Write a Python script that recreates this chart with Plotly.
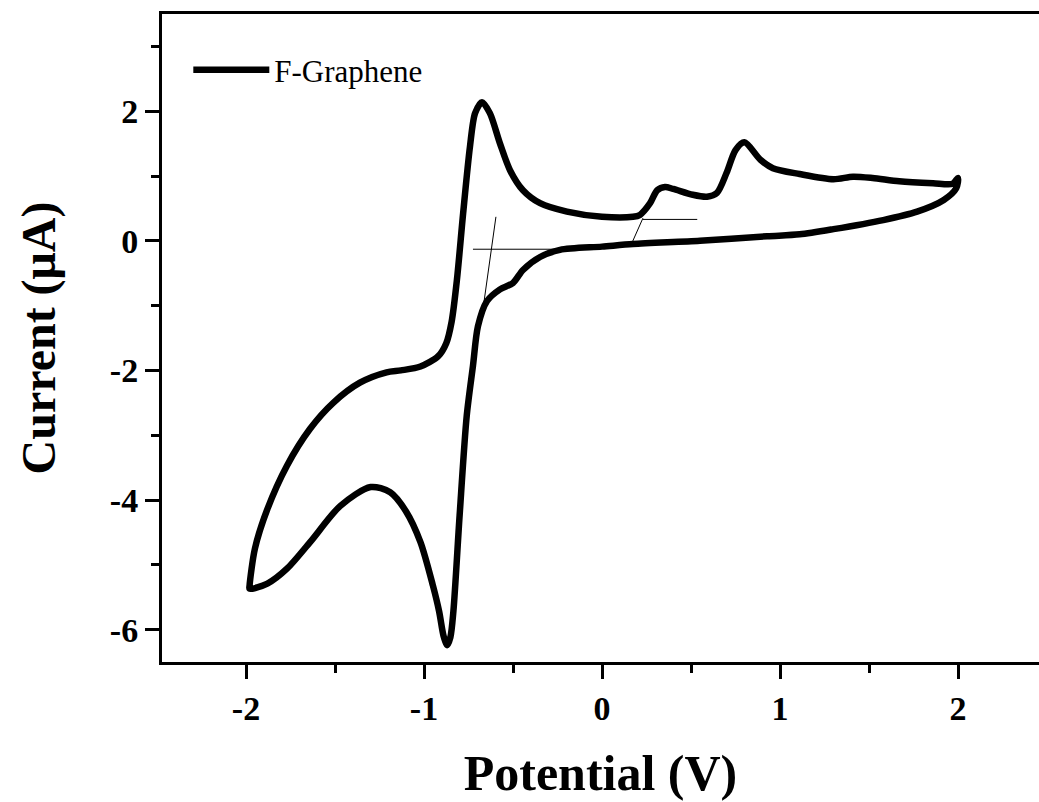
import plotly.graph_objects as go

# Cyclic voltammogram of F-Graphene (closed loop: upper branch right->left, lower branch left->right)
potential = [
    2.00, 1.97, 1.86, 1.67, 1.52, 1.41, 1.30, 1.11, 0.96, 0.89, 0.80, 0.75, 0.70, 0.646, 0.59, 0.51,
    0.40, 0.354, 0.31, 0.27, 0.213, 0.174, 0.00, -0.197, -0.348, -0.444, -0.517, -0.573, -0.63,
    -0.674, -0.713, -0.742, -0.78, -0.815, -0.845, -0.875, -0.92, -1.02, -1.13, -1.21, -1.36, -1.51,
    -1.64, -1.77, -1.88, -1.95, -1.98,
    -1.98, -1.88, -1.77, -1.64, -1.47, -1.30, -1.19, -1.10, -1.02, -0.95, -0.915, -0.89, -0.87,
    -0.852, -0.835, -0.80, -0.76, -0.725, -0.697, -0.646, -0.573, -0.50, -0.444, -0.348, -0.236,
    0.00, 0.174, 0.55, 0.927, 1.11, 1.30, 1.58, 1.77, 1.92, 1.99, 2.00,
]
current = [
    0.97, 0.88, 0.89, 0.92, 0.97, 0.99, 0.95, 1.03, 1.12, 1.25, 1.52, 1.40, 1.05, 0.74, 0.68, 0.71,
    0.80, 0.83, 0.78, 0.58, 0.40, 0.37, 0.37, 0.45, 0.58, 0.78, 1.09, 1.50, 1.97,
    2.14, 1.97, 1.45, 0.43, -0.60, -1.25, -1.58, -1.78, -1.94, -2.00, -2.03, -2.19, -2.50,
    -2.90, -3.47, -4.14, -4.75, -5.32,
    -5.37, -5.29, -5.06, -4.65, -4.09, -3.80, -3.88, -4.18, -4.65, -5.32, -5.72, -6.10, -6.24,
    -6.12, -5.72, -4.24, -2.70, -1.93, -1.32, -0.93, -0.75, -0.65, -0.45, -0.25, -0.14,
    -0.09, -0.05, 0.00, 0.07, 0.10, 0.18, 0.32, 0.45, 0.63, 0.81, 0.97,
]

# Thin construction (baseline / tangent) lines
tangent1_x = [-0.725, -0.25]
tangent1_y = [-0.13, -0.13]
tangent2_x = [-0.596, -0.667]
tangent2_y = [0.37, -1.02]
tangent3_x = [0.23, 0.535]
tangent3_y = [0.33, 0.33]
tangent4_x = [0.23, 0.167]
tangent4_y = [0.35, -0.04]

# Axis ticks (labels use a plain hyphen as in the original)
x_tickvals = [-2, -1, 0, 1, 2]
x_ticktext = ["-2", "-1", "0", "1", "2"]
y_tickvals = [-6, -4, -2, 0, 2]
y_ticktext = ["-6", "-4", "-2", "0", "2"]

x_range = [-2.472, 2.455]
y_range = [-6.5, 3.5]

serif = "Liberation Serif"

fig = go.Figure()
fig.add_trace(go.Scatter(
    x=potential, y=current, mode="lines", name="F-Graphene",
    line=dict(color="black", width=6.5, shape="spline", smoothing=0.8),
))
for tx, ty in [(tangent1_x, tangent1_y), (tangent2_x, tangent2_y),
               (tangent3_x, tangent3_y), (tangent4_x, tangent4_y)]:
    fig.add_trace(go.Scatter(x=tx, y=ty, mode="lines", showlegend=False,
                             hoverinfo="skip", line=dict(color="black", width=1)))

fig.update_layout(
    width=1039, height=802,
    margin=dict(l=162, r=0, t=14, b=140),
    paper_bgcolor="white", plot_bgcolor="white",
    font=dict(family=serif, color="black"),
    showlegend=True,
    legend=dict(x=0.03, y=0.9136, xanchor="left", yanchor="middle",
                bgcolor="rgba(0,0,0,0)", borderwidth=0, itemwidth=76,
                font=dict(family=serif, size=31, color="black")),
    xaxis=dict(
        range=x_range, showline=True, linewidth=3, linecolor="black", mirror=True,
        ticks="outside", ticklen=14, tickwidth=3, tickcolor="black",
        tickmode="array", tickvals=x_tickvals, ticktext=x_ticktext,
        showgrid=False, zeroline=False,
        minor=dict(ticks="outside", ticklen=8, tickwidth=3, tickcolor="black", dtick=0.5, tick0=0),
        tickfont=dict(family=serif, size=34, color="black", weight="bold"),
        title=dict(text="Potential (V)", standoff=30,
                   font=dict(family=serif, size=50, color="black", weight="bold")),
    ),
    yaxis=dict(
        range=y_range, showline=True, linewidth=3, linecolor="black", mirror=False,
        ticks="outside", ticklen=14, tickwidth=3, tickcolor="black",
        tickmode="array", tickvals=y_tickvals, ticktext=y_ticktext,
        showgrid=False, zeroline=False,
        minor=dict(ticks="outside", ticklen=8, tickwidth=3, tickcolor="black", dtick=1, tick0=0),
        tickfont=dict(family=serif, size=34, color="black", weight="bold"),
        title=dict(text="Current (μA)", standoff=40,
                   font=dict(family=serif, size=48, color="black", weight="bold")),
    ),
)

fig.write_html("out.html")
